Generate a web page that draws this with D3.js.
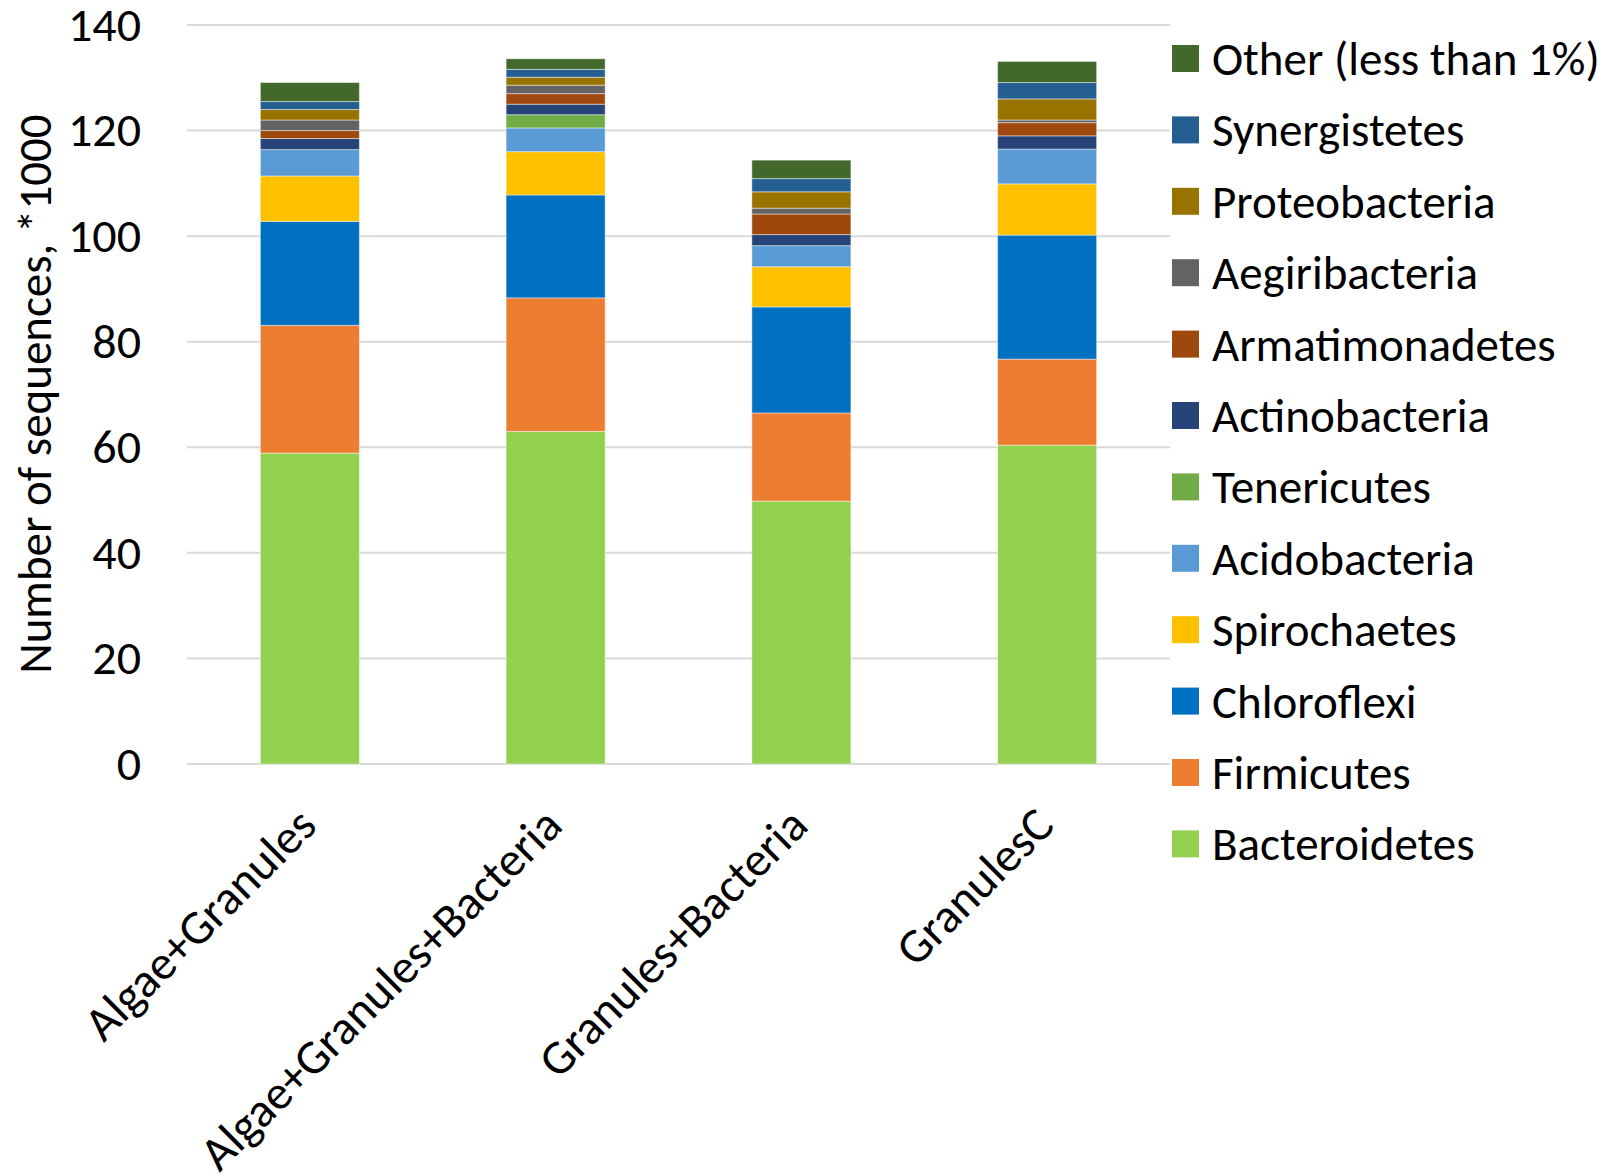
<!DOCTYPE html>
<html>
<head>
<meta charset="utf-8">
<script src="https://cdn.jsdelivr.net/npm/d3@7"></script>
<style>
  html, body { margin: 0; padding: 0; background: #fff; }
  svg text { font-family: Carlito, Calibri, Lato, sans-serif; fill: #000; }
</style>
</head>
<body>
<svg id="chart" width="1614" height="1176"></svg>
<script>
// Sample groups on the x axis
const samples = ["Algae+Granules", "Algae+Granules+Bacteria", "Granules+Bacteria", "GranulesC"];

// Phyla, bottom of the stack first
const phyla = ["Bacteroidetes", "Firmicutes", "Chloroflexi", "Spirochaetes", "Acidobacteria",
  "Tenericutes", "Actinobacteria", "Armatimonadetes", "Aegiribacteria", "Proteobacteria",
  "Synergistetes", "Other (less than 1%)"];

// Sequence counts (*1000), one value per sample
const bacteroidetes   = [58.9, 63.0, 49.8, 60.4];
const firmicutes      = [24.2, 25.3, 16.7, 16.3];
const chloroflexi     = [19.7, 19.5, 20.1, 23.5];
const spirochaetes    = [ 8.6,  8.2,  7.6,  9.7];
const acidobacteria   = [ 5.0,  4.5,  4.0,  6.6];
const tenericutes     = [ 0.0,  2.5,  0.0,  0.0];
const actinobacteria  = [ 2.1,  2.0,  2.1,  2.5];
const armatimonadetes = [ 1.5,  2.0,  3.9,  2.5];
const aegiribacteria  = [ 2.0,  1.6,  1.1,  0.5];
const proteobacteria  = [ 2.0,  1.5,  3.1,  4.0];
const synergistetes   = [ 1.5,  1.5,  2.5,  3.1];
const other           = [ 3.6,  2.0,  3.5,  4.0];

const seriesValues = [bacteroidetes, firmicutes, chloroflexi, spirochaetes, acidobacteria,
  tenericutes, actinobacteria, armatimonadetes, aegiribacteria, proteobacteria,
  synergistetes, other];

const colors = ["#92D050", "#ED7D31", "#0070C0", "#FFC000", "#5B9BD5", "#70AD47",
  "#264478", "#9E480E", "#636363", "#997300", "#255E91", "#43682B"];

const yTicks = [0, 20, 40, 60, 80, 100, 120, 140];
const yTitle = "Number of sequences, *1000";

const FONT = "Carlito, Calibri, Lato, sans-serif";
const FS = 47;

// Table for d3.stack
const table = samples.map((s, i) => {
  const row = { sample: s };
  phyla.forEach((p, k) => { row[p] = seriesValues[k][i]; });
  return row;
});

const svg = d3.select("#chart");
const plot = { left: 187, right: 1170, top: 25, bottom: 764 };

const x = d3.scaleBand().domain(samples).range([plot.left, plot.right]).paddingInner(0.597).paddingOuter(0.2985);
const y = d3.scaleLinear().domain([0, 140]).range([plot.bottom, plot.top]);
const color = d3.scaleOrdinal().domain(phyla).range(colors);

// Horizontal gridlines
svg.append("g")
  .selectAll("line")
  .data(yTicks)
  .join("line")
  .attr("x1", plot.left).attr("x2", plot.right)
  .attr("y1", d => y(d)).attr("y2", d => y(d))
  .attr("stroke", "#d9d9d9").attr("stroke-width", 2);

// Y axis tick labels
const yAxis = svg.append("g")
  .attr("transform", `translate(${plot.left},0)`)
  .call(d3.axisLeft(y).tickValues(yTicks).tickSize(0).tickPadding(46));
yAxis.select(".domain").remove();
yAxis.selectAll("text").attr("font-size", FS + 1).style("font-family", FONT);

// Stacked bars
const stacked = d3.stack().keys(phyla)(table);
svg.append("g")
  .selectAll("g")
  .data(stacked)
  .join("g")
  .attr("fill", d => color(d.key))
  .selectAll("rect")
  .data(d => d)
  .join("rect")
  .attr("x", d => x(d.data.sample))
  .attr("width", x.bandwidth())
  .attr("y", d => y(d[1]))
  .attr("height", d => y(d[0]) - y(d[1]))
  .attr("stroke", "rgba(255,255,255,0.45)")
  .attr("stroke-width", d => (d[1] - d[0]) > 0 ? 1 : 0);

// X axis labels, rotated
const xAxis = svg.append("g")
  .attr("transform", `translate(0,${plot.bottom})`)
  .call(d3.axisBottom(x).tickSize(0).tickPadding(0));
xAxis.select(".domain").remove();
xAxis.selectAll("text")
  .attr("font-size", FS + 1)
  .style("font-family", FONT)
  .attr("text-anchor", "end")
  .attr("dy", null)
  .attr("y", 0)
  .attr("transform", "translate(9,64) rotate(-45)");

// Y axis title
svg.append("text")
  .attr("transform", `translate(51,394) rotate(-90)`)
  .attr("text-anchor", "middle")
  .attr("font-size", FS)
  .text(yTitle);

// Legend, top entry is the top of the stack
const legendItems = phyla.slice().reverse();
const legend = svg.append("g")
  .selectAll("g")
  .data(legendItems)
  .join("g")
  .attr("transform", (d, i) => `translate(1172,${58.5 + i * 71.4})`);
legend.append("rect")
  .attr("x", 0).attr("y", -13.5).attr("width", 27).attr("height", 27)
  .attr("fill", d => color(d));
legend.append("text")
  .attr("x", 40).attr("y", 0).attr("dy", "0.35em")
  .attr("font-size", FS)
  .text(d => d);
</script>
</body>
</html>
